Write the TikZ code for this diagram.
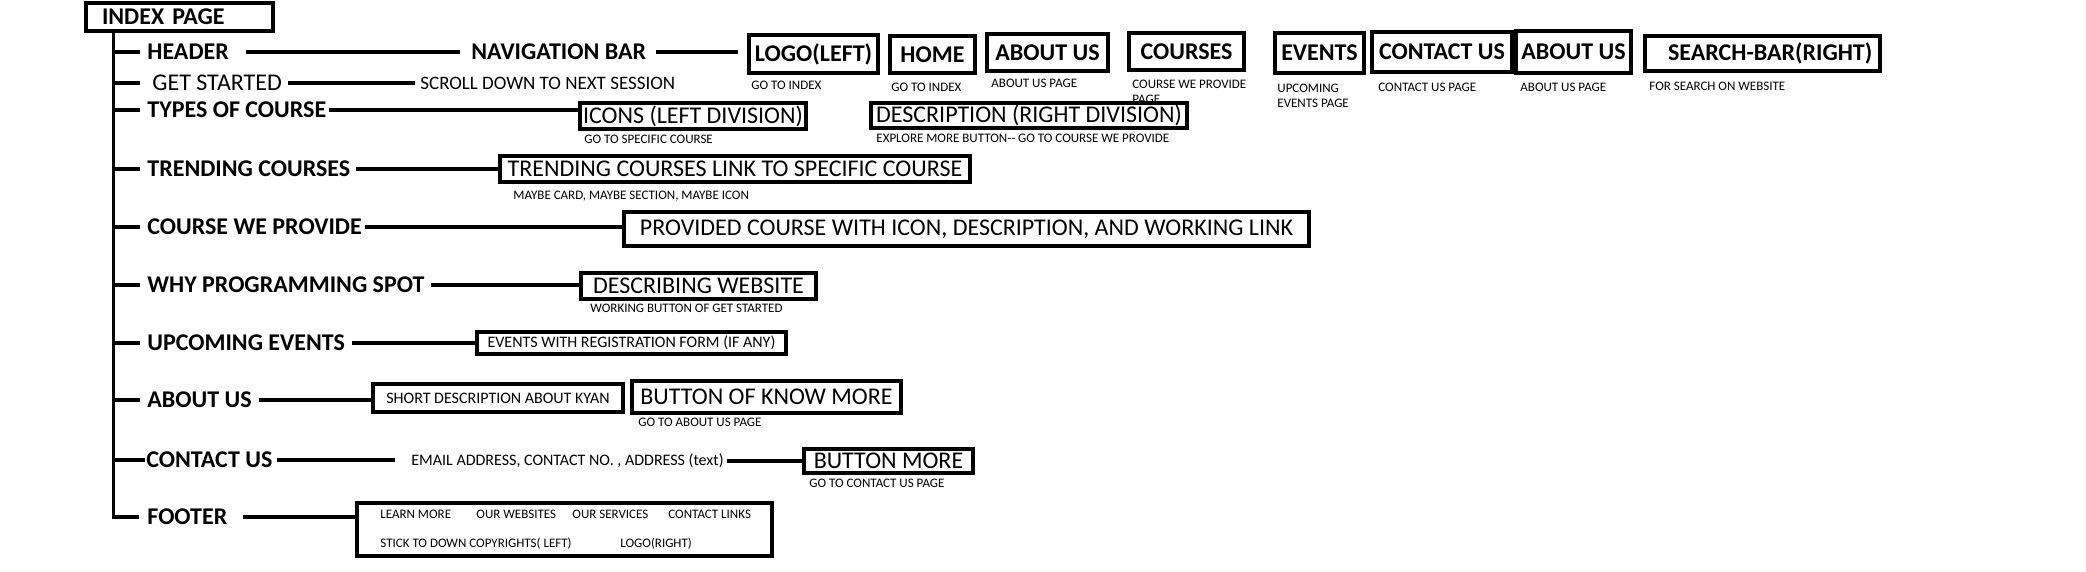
\documentclass[tikz,border=0pt]{standalone}
\usepackage{fontspec}
\setmainfont{Carlito}
\tikzset{
  conn/.style={line width=1.6pt},
  box/.style={draw, line width=1.7pt, inner sep=0pt},
  big/.style={font=\fontsize{12}{14}\selectfont},
  bigb/.style={font=\fontsize{12}{14}\selectfont\bfseries},
  med/.style={font=\fontsize{8}{10}\selectfont},
  scr/.style={font=\fontsize{9.5}{11}\selectfont},
  sml/.style={font=\fontsize{6.5}{7.2}\selectfont},
  txt/.style={anchor=west, inner sep=0pt},
  txt2/.style={anchor=north west, inner sep=0pt, align=left},
}
\newcommand{\mkcbox}[7]{%
  \pgfmathsetmacro\myw{(#5-#3)*0.5}%
  \pgfmathsetmacro\myh{(#6-#4)*0.5}%
  \node[box,#1,minimum width=\myw pt,minimum height=\myh pt] (#2) at ({(#3+#5)/2},{(#4+#6)/2}) {#7};}
\newcommand{\mklbox}[8]{%
  \pgfmathsetmacro\myw{(#5-#3)*0.5}%
  \pgfmathsetmacro\myh{(#6-#4)*0.5}%
  \pgfmathsetmacro\myp{#7*0.5}%
  \node[box,#1,text width=\myw pt,align=left,minimum height=\myh pt] (#2) at ({(#3+#5)/2},{(#4+#6)/2}) {\hspace*{\myp pt}\mbox{#8}};}
\begin{document}
\begin{tikzpicture}[x=0.5pt,y=-0.5pt]
\fill[white] (0,0) rectangle (2086,572);
\useasboundingbox (0,0) rectangle (2086,572);

% root
\mklbox{bigb}{idx}{86}{3}{273}{31}{16}{INDEX PAGE}
\coordinate (trunkx) at (113.5,0);

% section headings
\node[txt,bigb] (hdr) at (147,52) {HEADER};
\node[txt,big] (gs) at (152,83) {GET STARTED};
\node[txt,bigb] (types) at (147,110) {TYPES OF COURSE};
\node[txt,bigb] (trend) at (147,169) {TRENDING COURSES};
\node[txt,bigb] (cwp) at (147,227) {COURSE WE PROVIDE};
\node[txt,bigb] (why) at (147,285) {WHY PROGRAMMING SPOT};
\node[txt,bigb] (upc) at (147,343) {UPCOMING EVENTS};
\node[txt,bigb] (about) at (147,400) {ABOUT US};
\node[txt,bigb] (contact) at (146,460) {CONTACT US};
\node[txt,bigb] (foot) at (147,517) {FOOTER};

% header row
\node[txt,bigb] (nav) at (471,52) {NAVIGATION BAR};
\mkcbox{bigb}{logo}{749}{35}{878}{73}{LOGO(LEFT)}
\mkcbox{bigb}{home}{890}{36}{975}{73}{HOME}
\mkcbox{bigb}{aboutn}{987}{34}{1108}{71}{ABOUT US}
\mkcbox{bigb}{courses}{1129}{33}{1244}{70}{COURSES}
\mkcbox{bigb}{events}{1275}{33}{1364}{73}{EVENTS}
\mkcbox{bigb}{contactn}{1372}{32}{1512}{72}{CONTACT US}
\mkcbox{bigb}{aboutm}{1516}{31}{1631}{73}{ABOUT US}
\mklbox{bigb}{search}{1645}{36}{1880}{71}{23}{SEARCH-BAR(RIGHT)}
\node[txt,sml] (l1) at (751,85) {GO TO INDEX};
\node[txt,sml] (l2) at (891,87) {GO TO INDEX};
\node[txt,sml] (l3) at (991,83) {ABOUT US PAGE};
\node[txt2,sml] (l4) at (1132,80) {COURSE WE PROVIDE\\PAGE};
\node[txt2,sml] (l5) at (1277,84) {UPCOMING\\EVENTS PAGE};
\node[txt,sml] (l6) at (1378,87) {CONTACT US PAGE};
\node[txt,sml] (l7) at (1520,87) {ABOUT US PAGE};
\node[txt,sml] (l8) at (1649,86) {FOR SEARCH ON WEBSITE};

% get started
\node[txt,scr] (scroll) at (420,83) {SCROLL DOWN TO NEXT SESSION};

% types of course
\mkcbox{big}{icons}{580}{103}{806}{129}{ICONS (LEFT DIVISION)}
\mkcbox{big}{desc}{871}{103}{1187}{128}{DESCRIPTION (RIGHT DIVISION)}
\node[txt,sml] (l9) at (584,139) {GO TO SPECIFIC COURSE};
\node[txt,sml] (l10) at (876,138) {EXPLORE MORE BUTTON-{}- GO TO COURSE WE PROVIDE};

% trending
\mkcbox{big}{trbox}{500}{156}{970}{182}{TRENDING COURSES LINK TO SPECIFIC COURSE}
\node[txt,sml] (l11) at (513,196) {MAYBE CARD, MAYBE SECTION, MAYBE ICON};

% course we provide
\mkcbox{big}{prov}{624}{212}{1309}{246}{PROVIDED COURSE WITH ICON, DESCRIPTION, AND WORKING LINK}

% why
\mkcbox{big}{descw}{581}{273}{816}{299}{DESCRIBING WEBSITE}
\node[txt,sml] (l12) at (590,308) {WORKING BUTTON OF GET STARTED};

% upcoming
\mkcbox{med}{evbox}{477}{332}{786}{354}{EVENTS WITH REGISTRATION FORM (IF ANY)}

% about
\mkcbox{med}{short}{373}{384}{623}{412}{SHORT DESCRIPTION ABOUT KYAN}
\mkcbox{big}{know}{632}{381}{901}{413}{BUTTON OF KNOW MORE}
\node[txt,sml] (l13) at (638,422) {GO TO ABOUT US PAGE};

% contact
\node[txt,med] (email) at (411,461) {EMAIL ADDRESS, CONTACT NO. , ADDRESS (text)};
\mkcbox{big}{bmore}{804}{449}{973}{473}{BUTTON MORE}
\node[txt,sml] (l14) at (809,483) {GO TO CONTACT US PAGE};

% footer
\mkcbox{}{footbox}{357}{503}{772}{556}{}
\node[txt,sml] (f1) at (380,514) {LEARN MORE};
\node[txt,sml] (f2) at (476,514) {OUR WEBSITES};
\node[txt,sml] (f3) at (572,514) {OUR SERVICES};
\node[txt,sml] (f4) at (668,514) {CONTACT LINKS};
\node[txt,sml] (f5) at (380,544) {STICK TO DOWN COPYRIGHTS( LEFT)};
\node[txt,sml] (f6) at (620,544) {LOGO(RIGHT)};

% trunk and branches
\draw[conn] (idx.south -| trunkx) -- (foot.west -| trunkx) -- ([xshift=-4pt]foot.west);
\draw[conn] (hdr.west -| trunkx) -- ([xshift=-3.5pt]hdr.west);
\draw[conn] (gs.west -| trunkx) -- ([xshift=-6pt]gs.west);
\draw[conn] (types.west -| trunkx) -- ([xshift=-3.5pt]types.west);
\draw[conn] (trend.west -| trunkx) -- ([xshift=-3.5pt]trend.west);
\draw[conn] (cwp.west -| trunkx) -- ([xshift=-3.5pt]cwp.west);
\draw[conn] (why.west -| trunkx) -- ([xshift=-3.5pt]why.west);
\draw[conn] (upc.west -| trunkx) -- ([xshift=-3.5pt]upc.west);
\draw[conn] (about.west -| trunkx) -- ([xshift=-3.5pt]about.west);
\draw[conn] (contact.west -| trunkx) -- ([xshift=-0.5pt]contact.west);

% horizontal connectors
\draw[conn] ([xshift=8.5pt]hdr.east) -- ([xshift=-5.5pt]nav.west);
\draw[conn] ([xshift=4.5pt]nav.east) -- ([xshift=-4.5pt]logo.west |- nav.east);
\draw[conn] ([xshift=3pt]gs.east) -- ([xshift=-2.5pt]scroll.west |- gs.east);
\draw[conn] ([xshift=1pt]types.east) -- (icons.west |- types.east);
\draw[conn] ([xshift=2.5pt]trend.east) -- (trbox.west |- trend.east);
\draw[conn] ([xshift=1.5pt]cwp.east) -- (prov.west |- cwp.east);
\draw[conn] ([xshift=3pt]why.east) -- (descw.west |- why.east);
\draw[conn] ([xshift=3.5pt]upc.east) -- (evbox.west |- upc.east);
\draw[conn] ([xshift=3.5pt]about.east) -- (short.west |- about.east);
\draw[conn] ([xshift=2pt]contact.east) -- ([xshift=-8pt]email.west |- contact.east);
\draw[conn] ([xshift=1.5pt]email.east) -- (bmore.west |- email.east);
\draw[conn] ([xshift=7.5pt]foot.east) -- (footbox.west |- foot.east);
\end{tikzpicture}
\end{document}
